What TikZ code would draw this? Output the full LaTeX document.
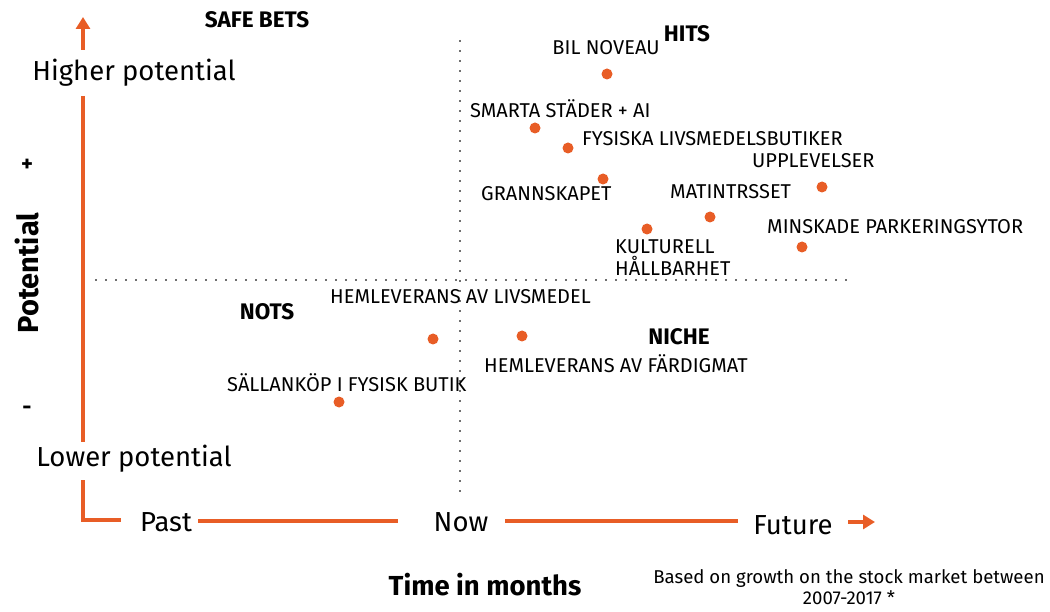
\documentclass[tikz,border=0pt]{standalone}
\usepackage{fontspec}
\setmainfont{Fira Sans}
\usetikzlibrary{arrows.meta}
\definecolor{axisorange}{HTML}{E85D26}
\definecolor{dotgray}{HTML}{707070}
\tikzset{
  axis/.style={draw=axisorange, line width=4pt},
  grid/.style={draw=dotgray, line width=1.6pt, dash pattern=on 1.6pt off 8.4pt},
  pt/.style={circle, fill=axisorange, inner sep=0pt, minimum size=11pt},
  lab/.style={font=\fontsize{20}{22}\selectfont, inner sep=0pt, anchor=west},
  big/.style={font=\fontsize{27.5}{32}\selectfont, inner sep=0pt},
  quad/.style={font=\fontsize{22.5}{26}\selectfont\bfseries, inner sep=0pt},
}
\begin{document}
\begin{tikzpicture}[x=1pt,y=-1pt]
\useasboundingbox (0,0) rectangle (1050,612);
% grid lines
\coordinate (vt) at (460,40); \coordinate (vb) at (460,492);
\coordinate (hl) at (95,280); \coordinate (hr) at (848,280);
\draw[grid] (vt) -- (vb);
\draw[grid] (hl) -- (hr);
% axis texts
\node[big] (hp) at (134,73) {Higher potential};
\node[big] (lp) at (134,459) {Lower potential};
\node[big] (past) at (166,522) {Past};
\node[big] (now) at (461,522) {Now};
\node[big] (fut) at (793,525) {Future};
\coordinate (atop) at (83,17);
\coordinate (abot) at (83,50);
\coordinate (vtop) at (83,96);
\coordinate (vbot) at (83,442);
\coordinate (ctop) at (83,480);
\coordinate (corner) at (83,520);
\coordinate (cend) at (121,520);
\coordinate (p1) at (198,521);
\coordinate (p2) at (398,521);
\coordinate (n1) at (505,521);
\coordinate (n2) at (738,521);
\coordinate (fa) at (848,522);
\coordinate (fb) at (875,522);
\draw[axis, -{Triangle[length=12pt,width=14pt]}] (abot) -- (atop);
\draw[axis] (vtop) -- (vbot);
\draw[axis] (ctop) -- (corner) -- (cend);
\draw[axis] (p1) -- (p2);
\draw[axis] (n1) -- (n2);
\draw[axis, -{Triangle[length=12pt,width=14pt]}] (fa) -- (fb);
% quadrant titles
\node[quad] (safe) at (257,20) {SAFE BETS};
\node[quad] (hits) at (687,34) {HITS};
\node[quad] (nots) at (267,312) {NOTS};
\node[quad] (niche) at (679,337) {NICHE};
\node[quad, rotate=90, font=\fontsize{29}{32}\selectfont\bfseries] (pot) at (27,273) {Potential};
\node[quad] (plus) at (27,165) {+};
\node[quad] (minus) at (27,410) {-};
\node[font=\fontsize{27.5}{30}\selectfont\bfseries, inner sep=0pt] (time) at (485,585) {Time in months};
\node[font=\fontsize{18.6}{21}\selectfont, inner sep=0pt, align=center] (note) at (849,587) {Based on growth on the stock market between\\2007-2017 *};
% points
\node[pt] (d1) at (607,74) {};
\node[lab, anchor=center] (l1) at (606,48) {BIL NOVEAU};
\node[pt] (d2) at (535,128) {};
\node[lab] (l2) at (470,109) {SMARTA STÄDER + AI};
\node[pt] (d3) at (568,148) {};
\node[lab] (l3) at (582,139) {FYSISKA LIVSMEDELSBUTIKER};
\node[pt] (d4) at (603,179) {};
\node[lab] (l4) at (481,194) {GRANNSKAPET};
\node[pt] (d5) at (822,187) {};
\node[lab] (l5) at (752,161) {UPPLEVELSER};
\node[pt] (d6) at (710,217) {};
\node[lab] (l6) at (670,192) {MATINTRSSET};
\node[pt] (d7) at (647,229) {};
\node[lab, align=left, font=\fontsize{20}{22}\selectfont] (l7) at (615,258) {KULTURELL\\HÅLLBARHET};
\node[pt] (d8) at (802,247) {};
\node[lab] (l8) at (767,227) {MINSKADE PARKERINGSYTOR};
\node[pt] (d9) at (433,339) {};
\node[lab] (l9) at (330,297) {HEMLEVERANS AV LIVSMEDEL};
\node[pt] (d10) at (522,336) {};
\node[lab] (l10) at (484,364) {HEMLEVERANS AV FÄRDIGMAT};
\node[pt] (d11) at (339,402) {};
\node[lab] (l11) at (227,383) {SÄLLANKÖP I FYSISK BUTIK};
\end{tikzpicture}
\end{document}
